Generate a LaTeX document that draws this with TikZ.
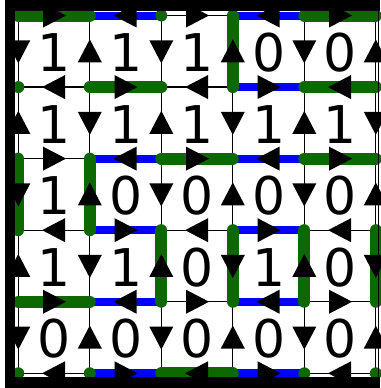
\documentclass[tikz,border=0pt]{standalone}
\usepackage{fontspec}
\setmainfont{DejaVu Sans}
\usetikzlibrary{decorations.markings}
\definecolor{loopgreen}{RGB}{13,104,0}
\definecolor{loopblue}{RGB}{0,0,255}
\begin{document}
\begin{tikzpicture}[x=1pt, y=-1pt,
    grid/.style={line width=1.3pt, black},
    gbond/.style={line width=12pt, loopgreen, line cap=round},
    bbond/.style={line width=8pt, loopblue},
    spin/.style={postaction={decorate}, decoration={markings,
      mark=at position 0.5 with {\fill[black] (-11pt,12pt) -- (12pt,0pt) -- (-11pt,-12pt) -- cycle;}}},
    digit/.style={inner sep=0pt, anchor=base, font=\fontsize{52}{52}\selectfont}]
  \useasboundingbox (0,0) rectangle (380,388);
  % lattice points
  \foreach \r in {0,...,5}
    \foreach \c in {0,...,5}
      \coordinate (v\r\c) at (18.3+71.5*\c, 15.5+71.56*\r);
  % thin lattice
  \foreach \r in {0,...,5} {
    \draw[grid] (v\r0) -- (v\r5);
    \draw[grid] (v0\r) -- (v5\r);
  }
  % blue bonds
  \foreach \a/\b in {01/02, 03/04, 13/14, 21/22, 23/24, 31/32,
                     33/34, 41/42, 43/44, 51/52, 53/54}
    \draw[bbond] (v\a) -- (v\b);
  % green bonds
  \foreach \a/\b in {00/01, 04/05, 03/13, 11/12, 14/15, 22/23, 24/25, 20/30,
                     21/31, 32/42, 33/43, 34/44, 35/45, 40/41, 52/53}
    \draw[gbond] (v\a) -- (v\b);
  \foreach \a in {10, 02, 50, 51, 54, 55}
    \fill[loopgreen] (v\a) circle[radius=6pt];
  % arrows, tail to head
  \foreach \a/\b in {00/01, 02/01, 02/03, 04/03, 04/05,
                     00/10, 11/01, 02/12, 13/03, 04/14, 15/05,
                     11/10, 11/12, 13/12, 13/14, 15/14,
                     20/10, 11/21, 22/12, 13/23, 24/14, 15/25,
                     20/21, 22/21, 22/23, 24/23, 24/25,
                     20/30, 31/21, 22/32, 33/23, 24/34, 35/25,
                     31/30, 31/32, 33/32, 33/34, 35/34,
                     40/30, 31/41, 42/32, 33/43, 44/34, 35/45,
                     40/41, 42/41, 42/43, 44/43, 44/45,
                     40/50, 51/41, 42/52, 53/43, 44/54, 55/45,
                     51/50, 51/52, 53/52, 53/54, 55/54}
    \path[spin] (v\a) -- (v\b);
  % cell values
  \foreach \row [count=\r from 0] in {{1,1,1,0,0},{1,1,1,1,1},{1,0,0,0,0},{1,1,0,1,0},{0,0,0,0,0}}
    \foreach \d [count=\c from 0] in \row
      \node[digit] (d\r\c) at (54.05+71.5*\c, 71.7+71.56*\r) {\d};
  % frame
  \fill (5,0) rectangle (15,388);
  \fill (5,0) rectangle (380,11);
  \fill (5,377) rectangle (380,388);
  \draw[line width=1pt] (378.5,11) -- (378.5,377);
\end{tikzpicture}
\end{document}
